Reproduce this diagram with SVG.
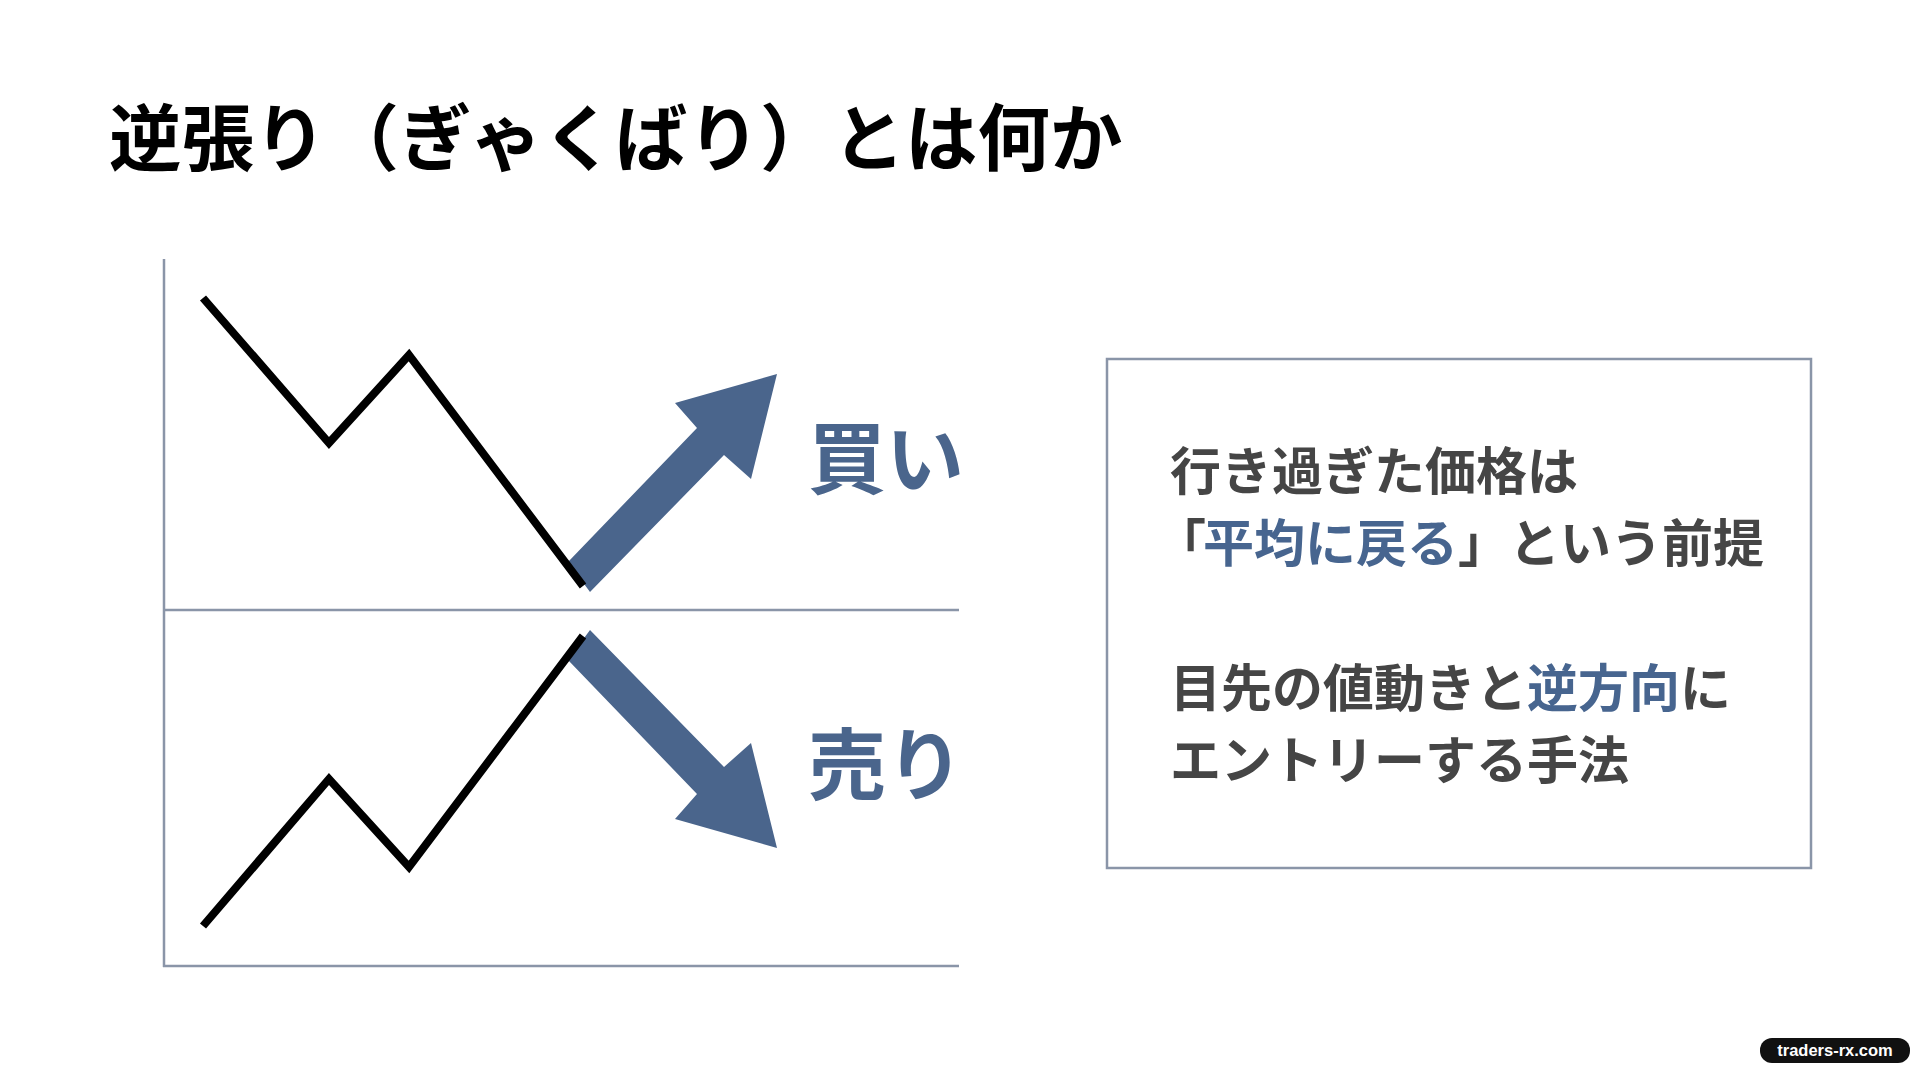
<svg xmlns="http://www.w3.org/2000/svg" width="1920" height="1072" viewBox="0 0 1920 1072">
  <style>
    .jp { font-family: "Noto Sans CJK JP", "Noto Sans", sans-serif; font-weight: 700; }
    .axis { stroke: #8a95a8; stroke-width: 2.5; fill: none; }
    .price { stroke: #000; stroke-width: 8; fill: none; stroke-linejoin: miter; stroke-linecap: butt; }
    .arrow { fill: #4a658c; }
    .blue { fill: #47658f; }
    .gray { fill: #454545; }
  </style>
  <rect x="0" y="0" width="1920" height="1072" fill="#ffffff"/>

  <g id="title">
    <text class="jp" x="109" y="165" font-size="72.5" fill="#000">逆張り（ぎゃくばり）とは何か</text>
  </g>

  <g id="chart">
    <g id="axes">
      <line class="axis" x1="164" y1="259" x2="164" y2="967"/>
      <line class="axis" x1="164" y1="610" x2="959" y2="610"/>
      <line class="axis" x1="163" y1="966" x2="959" y2="966"/>
    </g>
    <g id="buy">
      <polygon class="arrow" points="568,562 697,428 675,403 777,374 751,479 724,455 590,592"/>
      <polyline class="price" points="203,298 329,443 409,355 583,586"/>
      <text class="jp" x="808" y="488" font-size="78" fill="#4a658c">買い</text>
    </g>
    <g id="sell">
      <polygon class="arrow" points="568,660 697,794 675,819 777,848 751,743 724,767 590,630"/>
      <polyline class="price" points="203,926 329,779 409,867 583,636"/>
      <text class="jp" x="808" y="794" font-size="78" fill="#4a658c">売り</text>
    </g>
  </g>

  <g id="explanation">
    <rect x="1107" y="359" width="704" height="509" fill="#ffffff" stroke="#8a95a8" stroke-width="2.5"/>
    <text class="jp gray" x="1170" y="490" font-size="51">行き過ぎた価格は</text>
    <text class="jp gray" x="1155" y="562" font-size="51">「<tspan class="blue" dx="-3">平均に戻る</tspan>」という前提</text>
    <text class="jp gray" x="1170" y="707" font-size="51">目先の値動きと<tspan class="blue">逆方向</tspan>に</text>
    <text class="jp gray" x="1170" y="779" font-size="51">エントリーする手法</text>
  </g>

  <g id="watermark">
    <rect x="1760" y="1038" width="150" height="25" rx="12" fill="#111"/>
    <text x="1835" y="1056" font-family="Liberation Sans, Arial, sans-serif" font-weight="700" font-size="16.5" fill="#fff" text-anchor="middle">traders-rx.com</text>
  </g>
</svg>
